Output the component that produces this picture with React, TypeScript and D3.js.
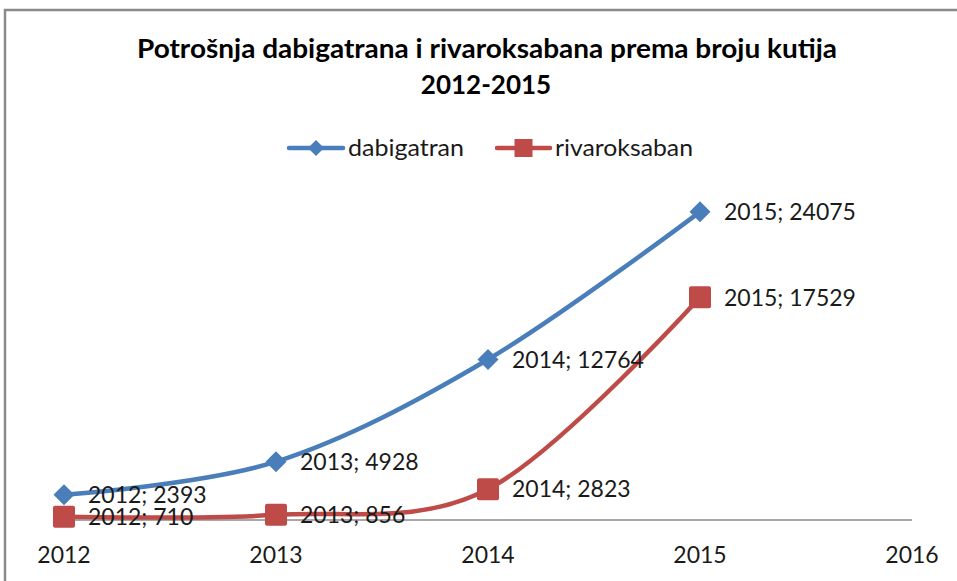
import React from "react";
import * as d3 from "d3";

const years = [2012, 2013, 2014, 2015];
const dabigatran = [2393, 4928, 12764, 24075];
const rivaroksaban = [710, 856, 2823, 17529];
const xTicks = [2012, 2013, 2014, 2015, 2016];
const seriesNames = ["dabigatran", "rivaroksaban"];
const titleLines = ["Potrošnja dabigatrana i rivaroksabana prema broju kutija", "2012-2015"];

const W = 957;
const H = 581;
const BLUE = "#4A7EBB";
const RED = "#BE4B48";
const FONT = "Lato, 'Open Sans', sans-serif";

export default function App() {
  const x = d3.scaleLinear().domain([2012, 2016]).range([64, 912]);
  const y = d3.scaleLinear().domain([0, 25000]).range([526, 199.8]);
  const axisY = 520;

  const line = d3
    .line<[number, number]>()
    .x((d) => x(d[0]))
    .y((d) => y(d[1]))
    .curve(d3.curveCatmullRom.alpha(0));

  const series = [
    { name: seriesNames[0], values: dabigatran, color: BLUE, marker: "diamond" },
    { name: seriesNames[1], values: rivaroksaban, color: RED, marker: "square" },
  ];

  const marker = (kind: string, cx: number, cy: number, color: string, key?: string) =>
    kind === "diamond" ? (
      <path
        key={key}
        d={`M${cx},${cy - 10.5}L${cx + 10.5},${cy}L${cx},${cy + 10.5}L${cx - 10.5},${cy}Z`}
        fill={color}
      />
    ) : (
      <rect key={key} x={cx - 11} y={cy - 11} width={22} height={22} rx={2} fill={color} />
    );

  const legendItems = [
    { x0: 289, x1: 343, tx: 348, tw: 116 },
    { x0: 497, x1: 550, tx: 555, tw: 138 },
  ];

  return (
    <svg
      width={W}
      height={H}
      style={{ position: "absolute", left: 0, top: 0, background: "#fff" }}
      fontFamily={FONT}
    >
      <rect x={0} y={0} width={W} height={H} fill="#fff" />
      <rect x={5} y={10} width={1000} height={700} fill="none" stroke="#8a8a8a" strokeWidth={2.5} />

      {/* Title */}
      <text x={487} y={58} textAnchor="middle" fontWeight="bold" fontSize={26} fill="#000" textLength={700} lengthAdjust="spacingAndGlyphs">
        {titleLines[0]}
      </text>
      <text x={486} y={94} textAnchor="middle" fontWeight="bold" fontSize={26} fill="#000">
        {titleLines[1]}
      </text>

      {/* Legend */}
      {series.map((s, i) => {
        const li = legendItems[i];
        return (
          <g key={s.name}>
            <line x1={li.x0} x2={li.x1} y1={148} y2={148} stroke={s.color} strokeWidth={4.5} strokeLinecap="round" />
            {s.marker === "diamond" ? (
              <path
                d={`M${(li.x0 + li.x1) / 2},${148 - 8}L${(li.x0 + li.x1) / 2 + 8},148L${(li.x0 + li.x1) / 2},${148 + 8}L${(li.x0 + li.x1) / 2 - 8},148Z`}
                fill={s.color}
              />
            ) : (
              <rect x={(li.x0 + li.x1) / 2 - 9} y={139} width={18} height={18} fill={s.color} />
            )}
            <text x={li.tx} y={156} fontSize={23} fill="#1a1a1a" textLength={li.tw} lengthAdjust="spacingAndGlyphs">
              {s.name}
            </text>
          </g>
        );
      })}

      {/* Axis */}
      <line x1={x(2012)} x2={x(2016)} y1={axisY} y2={axisY} stroke="#8a8a8a" strokeWidth={1.5} />
      {xTicks.map((t) => (
        <text key={t} x={x(t)} y={563} textAnchor="middle" fontSize={23} fill="#1a1a1a">
          {t}
        </text>
      ))}

      {/* Lines */}
      {series.map((s) => (
        <path
          key={s.name}
          d={line(years.map((yr, i) => [yr, s.values[i]]) as [number, number][]) || ""}
          fill="none"
          stroke={s.color}
          strokeWidth={4.5}
          strokeLinecap="round"
        />
      ))}

      {/* Markers */}
      {series.map((s) => (
        <g key={s.name + "m"}>
          {years.map((yr, i) => marker(s.marker, x(yr), y(s.values[i]), s.color, s.name + yr))}
        </g>
      ))}

      {/* Data labels */}
      {series.map((s) => (
        <g key={s.name + "l"}>
          {years.map((yr, i) => (
            <text key={yr} x={x(yr) + 24} y={y(s.values[i])} dy="0.36em" fontSize={23} fill="#1a1a1a">
              {`${yr}; ${s.values[i]}`}
            </text>
          ))}
        </g>
      ))}
    </svg>
  );
}
